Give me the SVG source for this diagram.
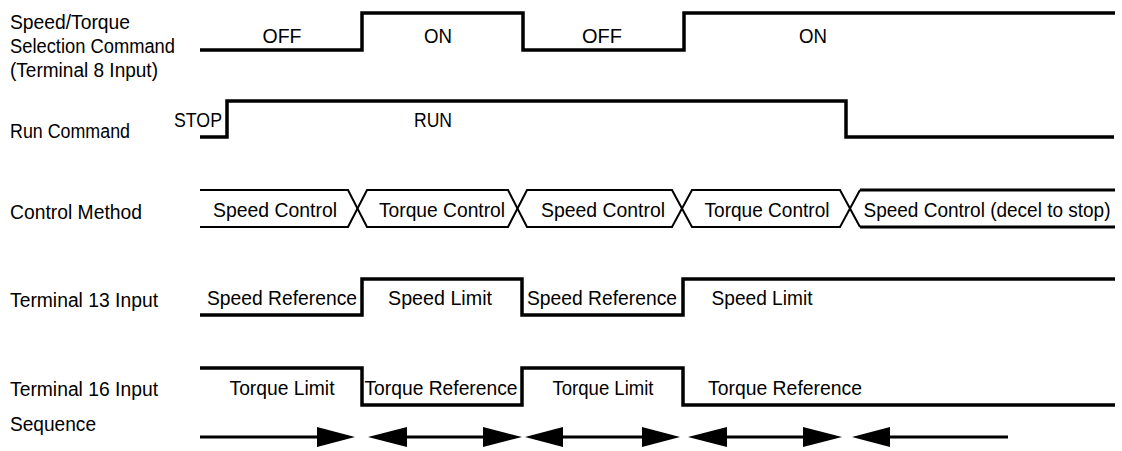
<svg xmlns="http://www.w3.org/2000/svg" width="1122" height="451" viewBox="0 0 1122 451">
<style>
.t{font-family:"Liberation Sans",Arial,sans-serif;font-size:20px;fill:#000}
.w{fill:none;stroke:#000;stroke-width:3.5;stroke-linejoin:miter;stroke-linecap:butt}
.c{fill:none;stroke:#000;stroke-width:2}
.s{fill:none;stroke:#000;stroke-width:3}
.a{fill:#000}
</style>
<rect width="1122" height="451" fill="#fff"/>
<g id="labels">
<text class="t" x="10" y="29" textLength="120" lengthAdjust="spacingAndGlyphs">Speed/Torque</text>
<text class="t" x="10" y="53" textLength="165" lengthAdjust="spacingAndGlyphs">Selection Command</text>
<text class="t" x="10" y="77" textLength="148" lengthAdjust="spacingAndGlyphs">(Terminal 8 Input)</text>
<text class="t" x="10" y="138" textLength="120" lengthAdjust="spacingAndGlyphs">Run Command</text>
<text class="t" x="10" y="219" textLength="132" lengthAdjust="spacingAndGlyphs">Control Method</text>
<text class="t" x="10" y="307" textLength="148" lengthAdjust="spacingAndGlyphs">Terminal 13 Input</text>
<text class="t" x="10" y="396" textLength="148" lengthAdjust="spacingAndGlyphs">Terminal 16 Input</text>
<text class="t" x="10" y="431" textLength="86" lengthAdjust="spacingAndGlyphs">Sequence</text>
</g>
<g id="row-selection">
<path class="w" d="M200,50 H362 V13 H523 V50 H684 V13 H1115"/>
<text class="t" x="262.5" y="43" textLength="39" lengthAdjust="spacingAndGlyphs">OFF</text>
<text class="t" x="424" y="43" textLength="28" lengthAdjust="spacingAndGlyphs">ON</text>
<text class="t" x="582" y="43" textLength="40" lengthAdjust="spacingAndGlyphs">OFF</text>
<text class="t" x="799" y="43" textLength="28" lengthAdjust="spacingAndGlyphs">ON</text>
</g>
<g id="row-run">
<path class="w" d="M200,137 H227 V101 H846 V137 H1114"/>
<text class="t" x="174" y="127" textLength="48" lengthAdjust="spacingAndGlyphs">STOP</text>
<text class="t" x="414" y="127" textLength="38" lengthAdjust="spacingAndGlyphs">RUN</text>
</g>
<g id="row-control">
<path class="c" d="M200,190 H348 L367,227 H508 L527,190 H672 L692,227 H840 L860,190"/>
<path class="c" d="M200,227 H348 L367,190 H508 L527,227 H672 L692,190 H840 L860,227"/>
<path class="s" d="M860,190 H1115 M860,227 H1115"/>
<text class="t" x="213" y="217" textLength="124" lengthAdjust="spacingAndGlyphs">Speed Control</text>
<text class="t" x="379" y="217" textLength="126" lengthAdjust="spacingAndGlyphs">Torque Control</text>
<text class="t" x="541" y="217" textLength="124" lengthAdjust="spacingAndGlyphs">Speed Control</text>
<text class="t" x="704.5" y="217" textLength="125" lengthAdjust="spacingAndGlyphs">Torque Control</text>
<text class="t" x="863.5" y="217" textLength="247" lengthAdjust="spacingAndGlyphs">Speed Control (decel to stop)</text>
</g>
<g id="row-t13">
<path class="w" d="M200,315 H362 V279 H522 V315 H683 V279 H1115"/>
<text class="t" x="207" y="305" textLength="150" lengthAdjust="spacingAndGlyphs">Speed Reference</text>
<text class="t" x="388" y="305" textLength="104" lengthAdjust="spacingAndGlyphs">Speed Limit</text>
<text class="t" x="527" y="305" textLength="150" lengthAdjust="spacingAndGlyphs">Speed Reference</text>
<text class="t" x="711.5" y="305" textLength="101" lengthAdjust="spacingAndGlyphs">Speed Limit</text>
</g>
<g id="row-t16">
<path class="w" d="M200,368 H362 V405 H522 V368 H683 V405 H1115"/>
<text class="t" x="229.5" y="395" textLength="105" lengthAdjust="spacingAndGlyphs">Torque Limit</text>
<text class="t" x="364.5" y="395" textLength="153" lengthAdjust="spacingAndGlyphs">Torque Reference</text>
<text class="t" x="552.5" y="395" textLength="101" lengthAdjust="spacingAndGlyphs">Torque Limit</text>
<text class="t" x="708" y="395" textLength="154" lengthAdjust="spacingAndGlyphs">Torque Reference</text>
</g>
<g id="connectors">
<path class="s" d="M200,437 H318 M406,437 H484 M562,437 H643 M726,437 H804 M889,437 H1008"/>
<polygon class="a" points="317,427 355,437 317,447"/>
<polygon class="a" points="407,427 368,437 407,447"/>
<polygon class="a" points="483,427 522,437 483,447"/>
<polygon class="a" points="563,427 525,437 563,447"/>
<polygon class="a" points="642,427 680,437 642,447"/>
<polygon class="a" points="727,427 688,437 727,447"/>
<polygon class="a" points="803,427 842,437 803,447"/>
<polygon class="a" points="890,427 852,437 890,447"/>
</g>
</svg>
